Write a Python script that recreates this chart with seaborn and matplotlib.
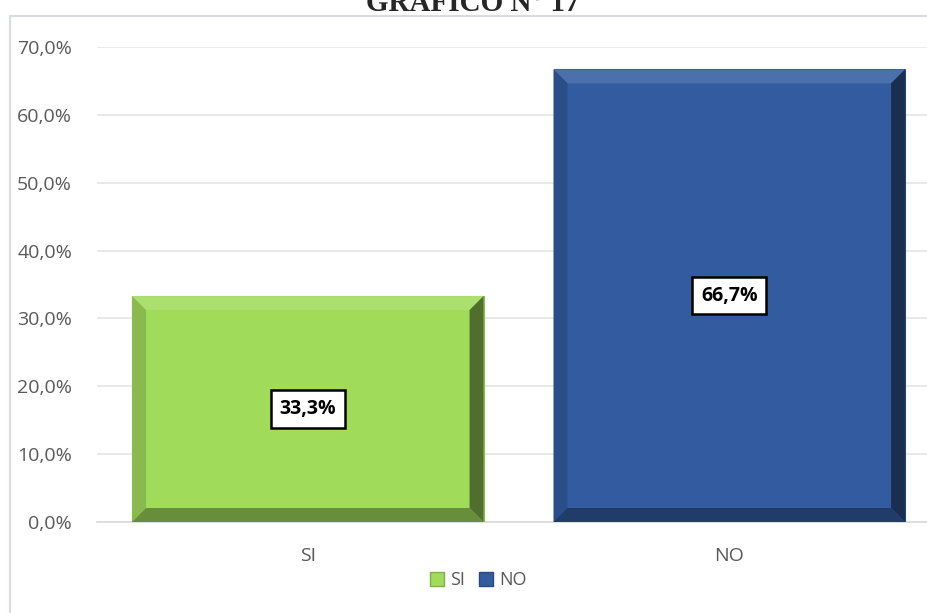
import numpy as np
import pandas as pd
import matplotlib
matplotlib.use("Agg")
import matplotlib.pyplot as plt
import seaborn as sns
from matplotlib.patches import Polygon, Rectangle, Patch

# Data
categories = ["SI", "NO"]
percentages = [33.3, 66.7]
face_colors = ["#A0DB5A", "#335CA0"]
bar_labels = ["33,3%", "66,7%"]
y_ticks = [0, 10, 20, 30, 40, 50, 60, 70]
y_tick_labels = ["0,0%", "10,0%", "20,0%", "30,0%", "40,0%", "50,0%", "60,0%", "70,0%"]
title_text = "GRÁFICO N° 17"

df = pd.DataFrame({"cat": categories, "pct": percentages})

sns.set_style("white")
plt.rcParams["font.family"] = ["Open Sans", "DejaVu Sans"]

fig = plt.figure(figsize=(9.27, 6.13), dpi=100)
ax = fig.add_axes([97 / 927, 1 - 522 / 613, (927 - 97) / 927, (522 - 47) / 613])

sns.barplot(data=df, x="cat", y="pct", hue="cat", palette=face_colors,
            width=0.834, ax=ax, legend=False, saturation=1, zorder=3)

ax.set_xlim(-0.497, 1.469)
ax.set_ylim(0, 70)
ax.set_yticks(y_ticks)
ax.set_yticklabels(y_tick_labels)
ax.set_xlabel("")
ax.set_ylabel("")
ax.grid(axis="y", color="#E3E3E3", linewidth=1.1, zorder=0)
ax.set_axisbelow(True)
for s in ["top", "right", "left"]:
    ax.spines[s].set_visible(False)
ax.spines["bottom"].set_color("#D9D9D9")
ax.spines["bottom"].set_linewidth(1.2)
ax.tick_params(axis="both", which="major", length=0, labelsize=14,
               labelcolor="#595959")
ax.tick_params(axis="y", pad=18)
ax.tick_params(axis="x", pad=18)
ax.set_xticks([-0.5, 0.5], minor=True)
ax.tick_params(axis="x", which="minor", length=11, color="#D9D9D9", width=1.2)

# bevel effect drawn from the bar geometry
fig.canvas.draw()
px_x = ax.transData.transform((1, 0))[0] - ax.transData.transform((0, 0))[0]
px_y = ax.transData.transform((0, 1))[1] - ax.transData.transform((0, 0))[1]
bev_x = 14 / px_x
bev_y = 14 / px_y


def shade(c, f):
    rgb = np.array(matplotlib.colors.to_rgb(c))
    if f > 1:
        return tuple(rgb + (1 - rgb) * (f - 1))
    return tuple(rgb * f)


for patch, col, lab in zip(ax.patches, face_colors, bar_labels):
    x0 = patch.get_x()
    w = patch.get_width()
    h = patch.get_height()
    x1 = x0 + w
    patch.set_edgecolor(shade(col, 0.85))
    patch.set_linewidth(0.8)
    ix0, ix1 = x0 + bev_x, x1 - bev_x
    iy0, iy1 = bev_y, h - bev_y
    parts = [
        ([(x0, h), (x1, h), (ix1, iy1), (ix0, iy1)], shade(col, 1.12)),
        ([(x0, 0), (x0, h), (ix0, iy1), (ix0, iy0)], shade(col, 0.85)),
        ([(x1, 0), (x1, h), (ix1, iy1), (ix1, iy0)], shade(col, 0.5)),
        ([(x0, 0), (x1, 0), (ix1, iy0), (ix0, iy0)], shade(col, 0.65)),
    ]
    for pts, c in parts:
        ax.add_patch(Polygon(pts, closed=True, facecolor=c, edgecolor="none", zorder=4))
    ax.text(x0 + w / 2, h / 2, lab, ha="center", va="center", fontsize=14,
            fontweight="bold", color="black", zorder=6,
            bbox=dict(boxstyle="square,pad=0.45", facecolor="white",
                      edgecolor="black", linewidth=1.8))

# legend
handles = [Patch(facecolor=c, edgecolor=shade(c, 0.8)) for c in face_colors]
fig.legend(handles, categories, loc="center", bbox_to_anchor=(478 / 927, 1 - 580 / 613),
           ncol=2, frameon=False, fontsize=13, handlelength=0.8, handleheight=0.8,
           handletextpad=0.3, columnspacing=0.8, labelcolor="#595959")

# chart border and title (clipped at the top as in the source)
fig.patches.append(Rectangle((10 / 927, -0.1), 2, 1 - 16 / 613 + 0.1, transform=fig.transFigure,
                             fill=False, edgecolor="#D9DDE3", linewidth=1.5))
fig.text(473 / 927, 1 - 11 / 613, title_text, ha="center", va="baseline",
         fontsize=21, fontweight="bold", family=["Liberation Serif", "DejaVu Serif"])

fig.savefig("out.png", dpi=100)
